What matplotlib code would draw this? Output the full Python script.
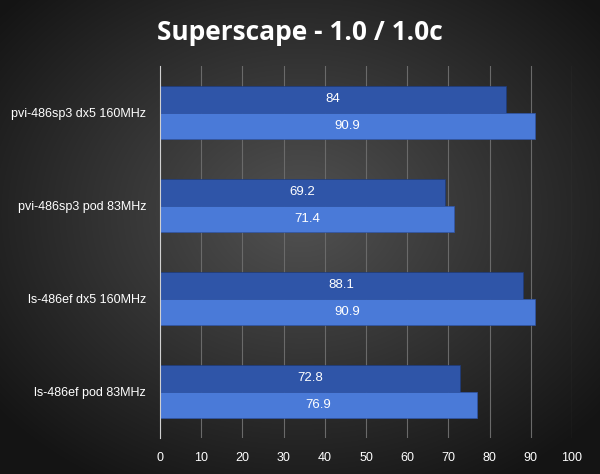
import matplotlib
matplotlib.use("Agg")
import matplotlib.pyplot as plt
import numpy as np

categories = ["pvi-486sp3 dx5 160MHz", "pvi-486sp3 pod 83MHz", "ls-486ef dx5 160MHz", "ls-486ef pod 83MHz"]
series_a = [84, 69.2, 88.1, 72.8]   # 1.0
series_b = [90.9, 71.4, 90.9, 76.9] # 1.0c
xticks = [0, 10, 20, 30, 40, 50, 60, 70, 80, 90, 100]

W, H = 600, 474
fig = plt.figure(figsize=(W/100, H/100), dpi=100)
bg = fig.add_axes([0, 0, 1, 1])
yy, xx = np.mgrid[0:H, 0:W]
r = np.sqrt(((xx - W/2)/(W*0.6))**2 + ((yy - H*0.45)/(H*0.6))**2)
v = np.clip(0.32 - 0.22*r, 0.08, 0.32)
bg.imshow(np.dstack([v, v, v]), extent=[0, 1, 0, 1], aspect="auto")
bg.axis("off")

ax = fig.add_axes([160/W, 1-438/H, 412/W, 372/H])
ax.patch.set_alpha(0)
n = len(categories)
centers = np.arange(n)
h = 0.28
fnt = "Liberation Sans"
ax.barh(centers - h/2, series_a, height=h, color="#2f55a8", edgecolor="#1d3a7a", linewidth=0.5)
ax.barh(centers + h/2, series_b, height=h, color="#4a7ad8", edgecolor="#2f55a8", linewidth=0.5)
for i in range(n):
    ax.text(series_a[i]/2, centers[i]-h/2, f"{series_a[i]:g}", color="white", ha="center", va="center", fontsize=9.5, family=fnt)
    ax.text(series_b[i]/2, centers[i]+h/2, f"{series_b[i]:g}", color="white", ha="center", va="center", fontsize=9.5, family=fnt)
ax.set_ylim(n-0.5, -0.5)
ax.set_xlim(0, 100)
ax.set_xticks(xticks)
ax.set_xticklabels([str(t) for t in xticks], color="white", fontsize=9, family=fnt)
ax.set_yticks(centers)
ax.set_yticklabels(categories, color="white", fontsize=9, family=fnt)
ax.tick_params(length=0, pad=10)
ax.grid(axis="x", color="#6a6a6a", linewidth=0.8)
ax.set_axisbelow(True)
for s in ["top", "right", "bottom"]:
    ax.spines[s].set_visible(False)
ax.spines["left"].set_color("#d0d0d0")
fig.text(0.5, 1-32/H, "Superscape - 1.0 / 1.0c", color="white", fontsize=19, fontweight="bold",
         ha="center", va="center", family="Open Sans")
fig.savefig("out.png", dpi=100)
